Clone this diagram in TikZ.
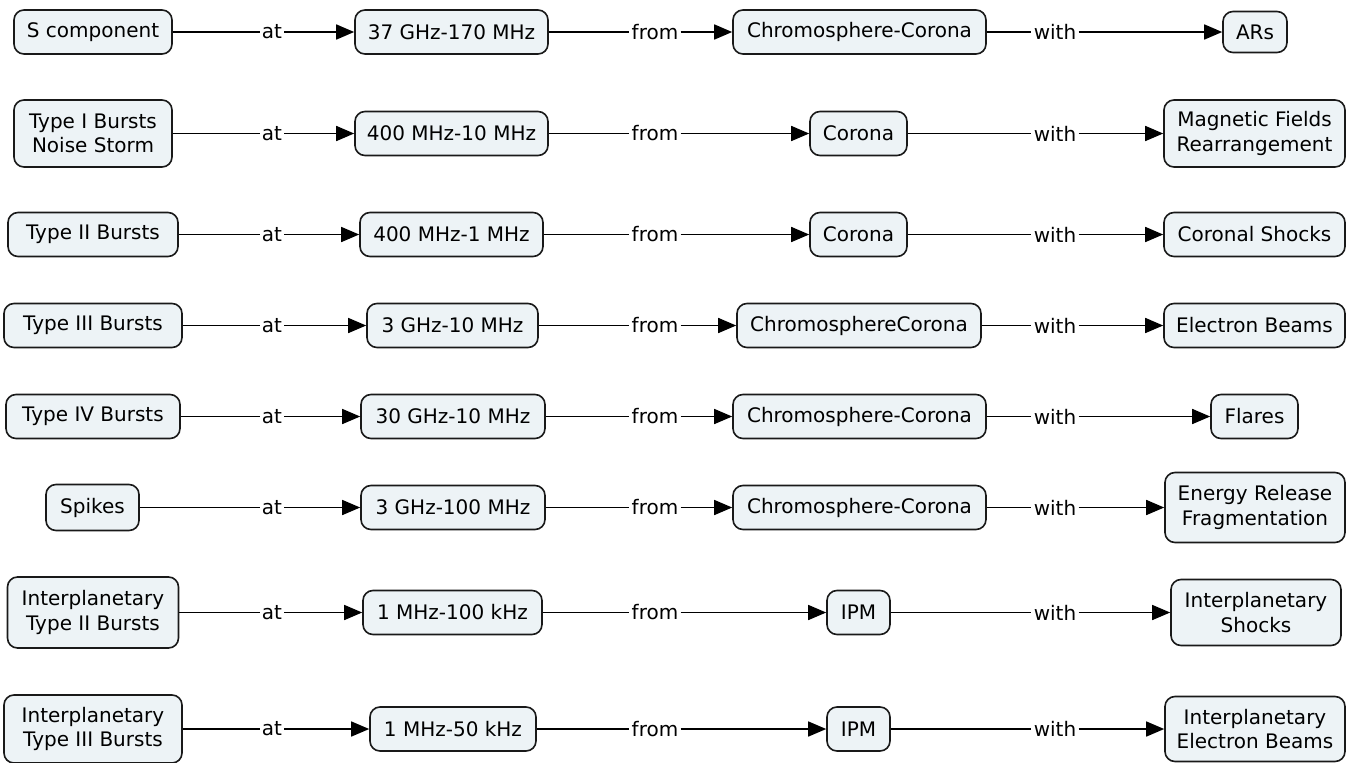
\documentclass[tikz,border=0pt]{standalone}
\usepackage{fontspec}
\setmainfont{DejaVu Sans}
\usetikzlibrary{arrows.meta}
\definecolor{boxfill}{RGB}{237,243,246}
\definecolor{boxline}{RGB}{25,25,25}
\begin{document}
\begin{tikzpicture}[x=1pt,y=-1pt,
  box/.style={draw=boxline, line width=1.6pt, fill=boxfill, rounded corners=10pt,
    align=center, inner sep=0pt, minimum height=44pt,
    font=\fontsize{20}{24.5}\selectfont},
  tall/.style={minimum height=67pt},
  lbl/.style={inner sep=2.2pt, font=\fontsize{20}{24.5}\selectfont},
  conn/.style={line width=1.5pt, draw=black},
  arr/.style={conn, -{Triangle[length=18pt,width=15pt]}}]
\useasboundingbox (0,0) rectangle (1353,763);

% Row 1
\node[box,minimum width=158pt] (s1) at (93,32) {S component};
\node[lbl] (a1) at (272,32) {at};
\node[box,minimum width=193pt] (f1) at (451.5,32) {37 GHz-170 MHz};
\node[lbl] (b1) at (655,32) {from};
\node[box,minimum width=253pt] (r1) at (859.5,32) {Chromosphere-Corona};
\node[lbl] (c1) at (1055,32) {with};
\node[box,minimum width=64pt,minimum height=41pt] (w1) at (1255,32) {ARs};

% Row 2
\node[box,tall,minimum width=158pt] (s2) at (93,133.5) {Type I Bursts\\Noise Storm};
\node[lbl] (a2) at (272,133.5) {at};
\node[box,minimum width=193pt] (f2) at (451.5,133.5) {400 MHz-10 MHz};
\node[lbl] (b2) at (655,133.5) {from};
\node[box,minimum width=97pt] (r2) at (858.5,133.5) {Corona};
\node[lbl] (c2) at (1055,133.5) {with};
\node[box,tall,minimum width=181pt] (w2) at (1254.5,133.5) {Magnetic Fields\\Rearrangement};

% Row 3
\node[box,minimum width=170pt] (s3) at (93,234.5) {Type II Bursts};
\node[lbl] (a3) at (272,234.5) {at};
\node[box,minimum width=183pt] (f3) at (451.5,234.5) {400 MHz-1 MHz};
\node[lbl] (b3) at (655,234.5) {from};
\node[box,minimum width=97pt] (r3) at (858.5,234.5) {Corona};
\node[lbl] (c3) at (1055,234.5) {with};
\node[box,minimum width=181pt] (w3) at (1254.5,234.5) {Coronal Shocks};

% Row 4
\node[box,minimum width=178pt] (s4) at (93,325.5) {Type III Bursts};
\node[lbl] (a4) at (272,325.5) {at};
\node[box,minimum width=171pt] (f4) at (452.5,325.5) {3 GHz-10 MHz};
\node[lbl] (b4) at (655,325.5) {from};
\node[box,minimum width=244pt] (r4) at (859,325.5) {ChromosphereCorona};
\node[lbl] (c4) at (1055,325.5) {with};
\node[box,minimum width=181pt] (w4) at (1254.5,325.5) {Electron Beams};

% Row 5
\node[box,minimum width=174pt] (s5) at (93,416.5) {Type IV Bursts};
\node[lbl] (a5) at (272,416.5) {at};
\node[box,minimum width=184pt] (f5) at (453,416.5) {30 GHz-10 MHz};
\node[lbl] (b5) at (655,416.5) {from};
\node[box,minimum width=253pt] (r5) at (859.5,416.5) {Chromosphere-Corona};
\node[lbl] (c5) at (1055,416.5) {with};
\node[box,minimum width=87pt] (w5) at (1254.5,416.5) {Flares};

% Row 6
\node[box,minimum width=93pt,minimum height=46pt] (s6) at (92.5,507.5) {Spikes};
\node[lbl] (a6) at (272,507.5) {at};
\node[box,minimum width=184pt] (f6) at (453,507.5) {3 GHz-100 MHz};
\node[lbl] (b6) at (655,507.5) {from};
\node[box,minimum width=253pt] (r6) at (859.5,507.5) {Chromosphere-Corona};
\node[lbl] (c6) at (1055,507.5) {with};
\node[box,minimum width=180pt,minimum height=70pt] (w6) at (1255,507.5) {Energy Release\\Fragmentation};

% Row 7
\node[box,minimum width=171pt,minimum height=71pt] (s7) at (93,612.5) {Interplanetary\\Type II Bursts};
\node[lbl] (a7) at (272,612.5) {at};
\node[box,minimum width=179pt] (f7) at (452.5,612.5) {1 MHz-100 kHz};
\node[lbl] (b7) at (655,612.5) {from};
\node[box,minimum width=63pt] (r7) at (858.5,612.5) {IPM};
\node[lbl] (c7) at (1055,612.5) {with};
\node[box,minimum width=170pt,minimum height=66pt] (w7) at (1256,612.5) {Interplanetary\\Shocks};

% Row 8
\node[box,minimum width=178pt,minimum height=68pt] (s8) at (93,729) {Interplanetary\\Type III Bursts};
\node[lbl] (a8) at (272,729) {at};
\node[box,minimum width=166pt] (f8) at (453,729) {1 MHz-50 kHz};
\node[lbl] (b8) at (655,729) {from};
\node[box,minimum width=63pt] (r8) at (858.5,729) {IPM};
\node[lbl] (c8) at (1055,729) {with};
\node[box,minimum width=180pt,minimum height=65pt] (w8) at (1255,729) {Interplanetary\\Electron Beams};

\foreach \i in {1,...,8}{
  \draw[conn] (s\i) -- (a\i);
  \draw[arr] (a\i) -- (f\i);
  \draw[conn] (f\i) -- (b\i);
  \draw[arr] (b\i) -- (r\i);
  \draw[conn] (r\i) -- (c\i);
  \draw[arr] (c\i) -- (w\i);
}
\end{tikzpicture}
\end{document}
